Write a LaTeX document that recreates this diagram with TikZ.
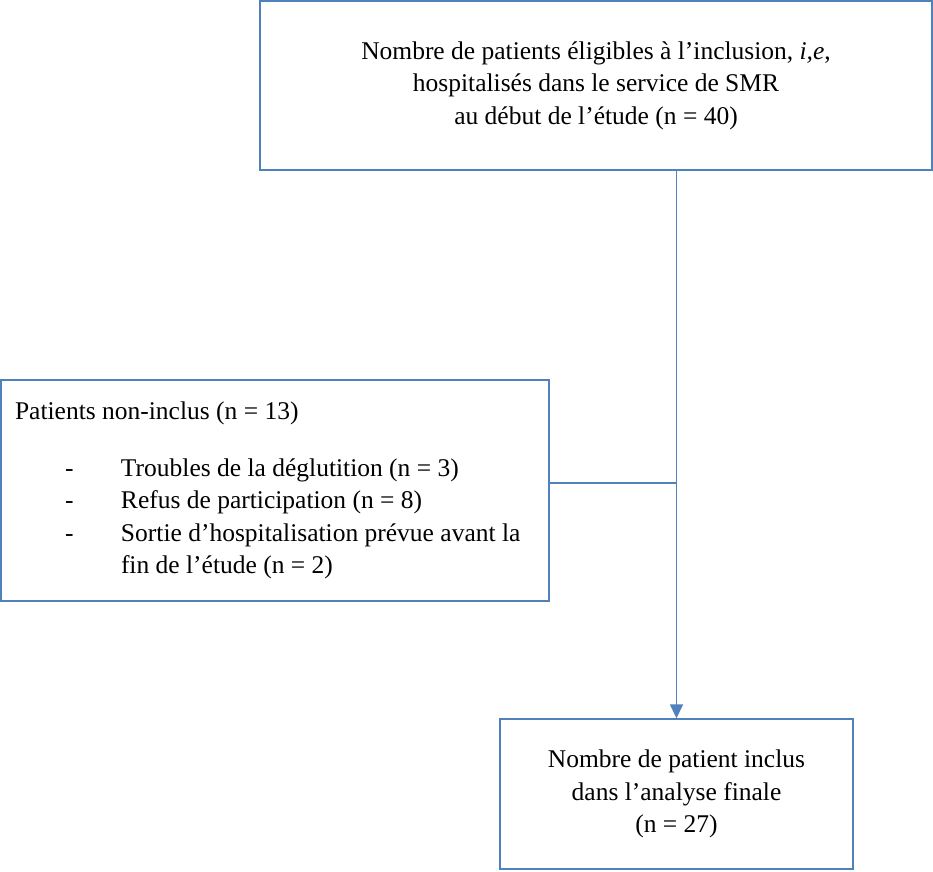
\documentclass[tikz,border=0pt]{standalone}
\usepackage{fontspec}
\setmainfont{Liberation Serif}
\usetikzlibrary{arrows.meta}
\definecolor{boxblue}{RGB}{79,129,189}
\begin{document}
\begin{tikzpicture}[x=1pt,y=-1pt,
  box/.style={draw=boxblue, line width=1.4pt, inner sep=0pt, font=\fontsize{25.5}{32.5}\selectfont},
  conn/.style={draw=boxblue, line width=1.5pt}]
\useasboundingbox (0,0) rectangle (933,871);
\node[box, minimum width=672, minimum height=169, align=center] (top) at (596,85.5)
  {Nombre de patients éligibles à l’inclusion, \textit{i,e},\\hospitalisés dans le service de SMR\\au début de l’étude (n = 40)};
\node[box, minimum width=548, minimum height=221, text width=520, align=flush left] (left) at (275,490.5)
  {Patients non-inclus (n = 13)\\[24pt]
   \hspace*{50pt}\makebox[56pt][l]{-}Troubles de la déglutition (n = 3)\\
   \hspace*{50pt}\makebox[56pt][l]{-}Refus de participation (n = 8)\\
   \hspace*{50pt}\makebox[56pt][l]{-}Sortie d’hospitalisation prévue avant la\\
   \hspace*{106pt}fin de l’étude (n = 2)};
\node[box, minimum width=353, minimum height=150, align=center] (bot) at (676.5,794)
  {Nombre de patient inclus\\dans l’analyse finale\\(n = 27)};
\coordinate (j) at (676.5,483);
\draw[conn, -{Triangle[length=14pt,width=13pt]}] (top.south -| bot.north) -- (bot.north);
\draw[conn] (left.east |- j) -- (j);
\end{tikzpicture}
\end{document}
